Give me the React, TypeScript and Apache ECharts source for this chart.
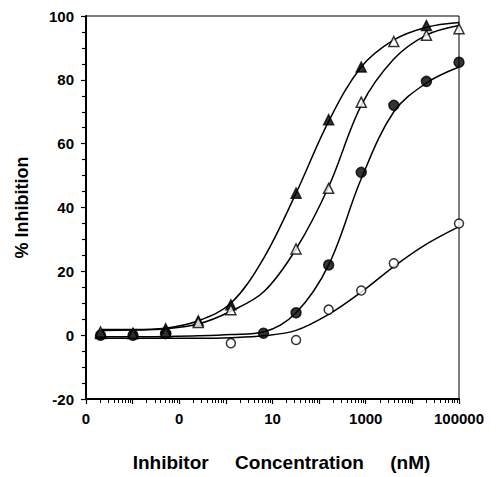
import React, { useEffect, useRef } from "react";
import * as echarts from "echarts";

// concentrations (nM), 5-fold dilution series
const concentrations = [0.00205, 0.0102, 0.0512, 0.256, 1.28, 6.4, 32, 160, 800, 4000, 20000, 100000];

// measured points (% inhibition), null where no marker is drawn
const filledTriangle = [0.5, 0.5, 2, 4.5, 9.5, null, 44.5, 67.5, 84, null, 97, null];
const openTriangle = [1, 0.5, 1, 4, 8, null, 27, 46, 73, 92, 94, 96];
const filledCircle = [0, 0, 0.5, null, null, 0.6, 7, 22, 51, 72, 79.5, 85.5];
const openCircle = [null, null, null, null, -2.5, null, -1.5, 8, 14, 22.5, null, 35];

// fitted curves, read at the same concentrations
const fitFilledTriangle = [1.8, 1.8, 2.2, 4.5, 10, 24, 44.5, 67, 84, 92.5, 96.5, 98];
const fitOpenTriangle = [1.5, 1.6, 2, 3.5, 7.5, 13.5, 27, 46.5, 72, 86.5, 94, 97];
const fitFilledCircle = [-0.5, -0.5, -0.4, -0.2, 0.2, 1, 7, 22, 49, 70, 79, 84];
const fitOpenCircle = [-1, -1, -1, -1, -0.8, -0.2, 1.5, 6.5, 13.5, 21.5, 28.5, 34];

// axis ticks
const decadeTicks = [0.001, 0.01, 0.1, 1, 10, 100, 1000, 10000, 100000];
const decadeLabels = ["0", "", "0", "", "10", "", "1000", "", "100000"];
const minorMultipliers = [2, 3, 4, 5, 6, 7, 8, 9];

const FONT = "'Liberation Sans', Arial, Helvetica, sans-serif";

function pairs(ys: (number | null)[]) {
  const out: [number, number][] = [];
  ys.forEach((y, i) => {
    if (y !== null) out.push([concentrations[i], y]);
  });
  return out;
}

export default function App() {
  const ref = useRef<HTMLDivElement>(null);
  useEffect(() => {
    document.body.style.margin = "0";
    if (!ref.current) return;
    const chart = echarts.init(ref.current, null, { renderer: "svg" });
    // minor tick positions in log10 space for the overlay value axis
    const minorLog: number[] = [];
    decadeTicks.slice(0, -1).forEach((d) =>
      minorMultipliers.forEach((m) => minorLog.push(Math.log10(d * m)))
    );

    const lineSeries = (data: number[]) => ({
      type: "line",
      xAxisIndex: 0,
      data: concentrations.map((c, i) => [c, data[i]]),
      smooth: 0.35,
      showSymbol: false,
      lineStyle: { color: "#000", width: 1.5 },
      silent: true,
      z: 2,
    });
    const pointSeries = (data: (number | null)[], symbol: string, filled: boolean, size: number) => ({
      type: "scatter",
      xAxisIndex: 0,
      data: pairs(data),
      symbol,
      symbolSize: size,
      itemStyle: {
        color: filled ? "#000" : "#fff",
        borderColor: "#000",
        borderWidth: 1.5,
      },
      z: 3,
    });

    chart.setOption({
      animation: false,
      backgroundColor: "#fff",
      grid: {
        left: 86,
        top: 16,
        right: 39,
        bottom: 71,
        show: true,
        borderColor: "#000",
        borderWidth: 1,
        backgroundColor: "transparent",
      },
      xAxis: [
        {
          type: "log",
          logBase: 10,
          min: 0.001,
          max: 100000,
          name: "Inhibitor     Concentration     (nM)",
          nameLocation: "middle",
          nameGap: 54,
          nameTextStyle: { fontFamily: FONT, fontWeight: "bold", fontSize: 19, color: "#000", padding: [0, 0, 0, 18] },
          axisLine: { show: true, onZero: false, lineStyle: { color: "#000", width: 2 } },
          axisTick: { show: true, length: 5, lineStyle: { color: "#000", width: 1.2 }, customValues: decadeTicks },
          axisLabel: {
            customValues: decadeTicks,
            margin: 12,
            fontFamily: FONT,
            fontWeight: "bold",
            fontSize: 15,
            color: "#000",
            formatter: (v: number) => decadeLabels[Math.round(Math.log10(v)) + 3] ?? "",
          },
          splitLine: { show: false },
        },
        {
          type: "value",
          min: -3,
          max: 5,
          position: "bottom",
          axisLine: { show: false, onZero: false },
          axisTick: { show: true, length: 4, lineStyle: { color: "#000", width: 1 }, customValues: minorLog },
          axisLabel: { show: false },
          splitLine: { show: false },
        },
      ],
      yAxis: {
        type: "value",
        min: -20,
        max: 100,
        interval: 20,
        name: "% Inhibition",
        nameLocation: "middle",
        nameGap: 55,
        nameTextStyle: { fontFamily: FONT, fontWeight: "bold", fontSize: 18, color: "#000" },
        axisLine: { show: true, onZero: false, lineStyle: { color: "#000", width: 2 } },
        axisTick: { show: true, length: 5, lineStyle: { color: "#000", width: 1.2 } },
        minorTick: { show: true, splitNumber: 4, length: 4, lineStyle: { color: "#000", width: 1.2 } },
        axisLabel: {
          margin: 12,
          fontFamily: FONT,
          fontWeight: "bold",
          fontSize: 15,
          color: "#000",
        },
        splitLine: { show: false },
      },
      series: [
        lineSeries(fitFilledTriangle),
        lineSeries(fitOpenTriangle),
        lineSeries(fitFilledCircle),
        lineSeries(fitOpenCircle),
        pointSeries(filledTriangle, "triangle", true, 10),
        pointSeries(openTriangle, "triangle", false, 10),
        pointSeries(filledCircle, "circle", true, 10),
        pointSeries(openCircle, "circle", false, 9),
      ],
    });
    return () => chart.dispose();
  }, []);
  return <div ref={ref} style={{ width: 498, height: 477 }} />;
}
